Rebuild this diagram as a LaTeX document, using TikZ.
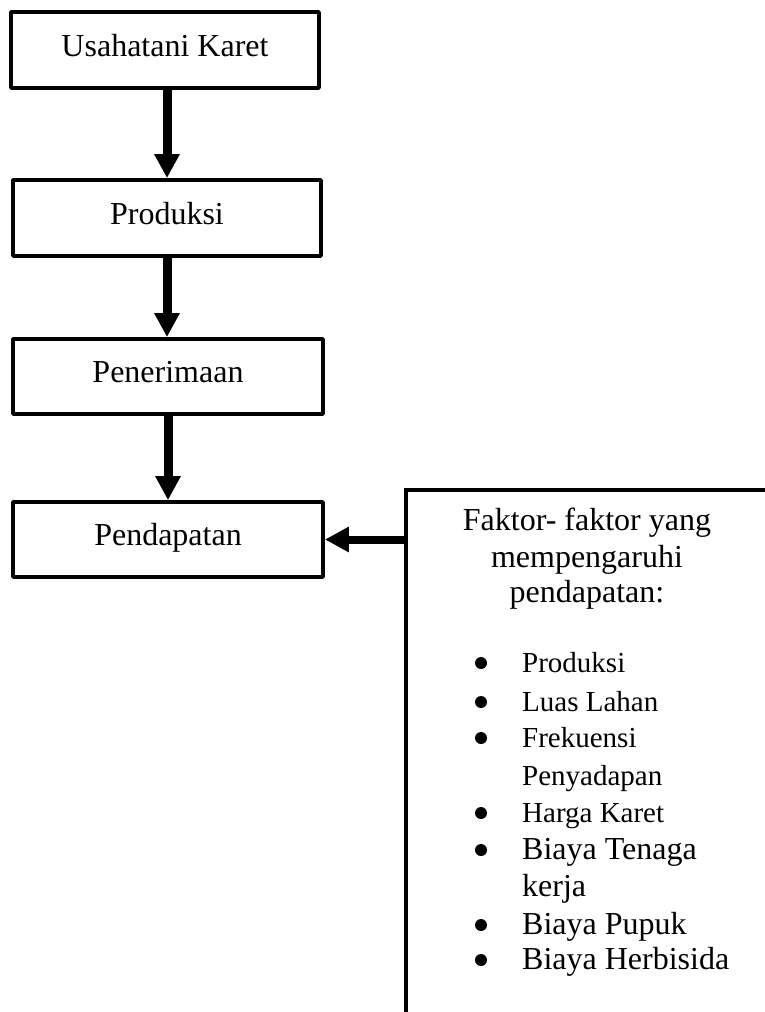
\documentclass[tikz,border=0pt]{standalone}
\usepackage{fontspec}
\setmainfont{Liberation Serif}
\usetikzlibrary{arrows.meta}
\begin{document}
\begin{tikzpicture}[x=1pt,y=-1pt,
  box/.style={draw,line width=3.8pt,line join=round,inner sep=0pt,
    text height=22pt,text depth=10pt,font=\fontsize{32}{37}\selectfont},
  flow/.style={line width=9pt,-{Triangle[length=24pt,width=24pt]}},
  head/.style={anchor=base,inner sep=0pt,font=\fontsize{32}{37}\selectfont},
  itemS/.style={anchor=base west,inner sep=0pt,font=\fontsize{29}{37}\selectfont},
  itemL/.style={anchor=base west,inner sep=0pt,font=\fontsize{32}{37}\selectfont},
  dot/.style={fill=black,draw=none}]
\useasboundingbox (0,0) rectangle (765,1012);
\clip (0,0) rectangle (765,1012);
\fill[white] (0,0) rectangle (765,1012);

\node[box,minimum width=308pt,minimum height=76pt] (b1) at (165,50) {Usahatani Karet};
\node[box,minimum width=308pt,minimum height=76pt] (b2) at (167,218) {Produksi};
\node[box,minimum width=310pt,minimum height=75pt] (b3) at (168,376.5) {Penerimaan};
\node[box,minimum width=310pt,minimum height=75pt] (b4) at (168,539.5) {Pendapatan};

\node[draw,line width=3.8pt,anchor=north west,minimum width=420pt,minimum height=600pt,inner sep=0pt] (rb) at (404,488) {};

\draw[flow] (b1.south -| b2.north) -- (b2.north);
\draw[flow] (b2.south) -- (b2.south |- b3.north);
\draw[flow] (b3.south) -- (b4.north);
\draw[flow,line width=8pt] (rb.north west |- b4.east) -- (b4.east);

\node[head] (h1) at (587,530) {Faktor- faktor yang};
\node[head] (h2) at (587,567) {mempengaruhi};
\node[head] (h3) at (587,602) {pendapatan:};

\foreach \y in {663,702,738,813,850,925,960}
  \fill[dot] (481,\y) circle (6pt);

\node[itemS] (i1) at (522,672) {Produksi};
\node[itemS] (i2) at (522,711) {Luas Lahan};
\node[itemS] (i3) at (522,747) {Frekuensi};
\node[itemS] (i4) at (522,785) {Penyadapan};
\node[itemS] (i5) at (522,822) {Harga Karet};
\node[itemL] (i6) at (522,859) {Biaya Tenaga};
\node[itemL] (i7) at (522,896) {kerja};
\node[itemL] (i8) at (522,934) {Biaya Pupuk};
\node[itemL] (i9) at (522,969) {Biaya Herbisida};
\end{tikzpicture}
\end{document}
